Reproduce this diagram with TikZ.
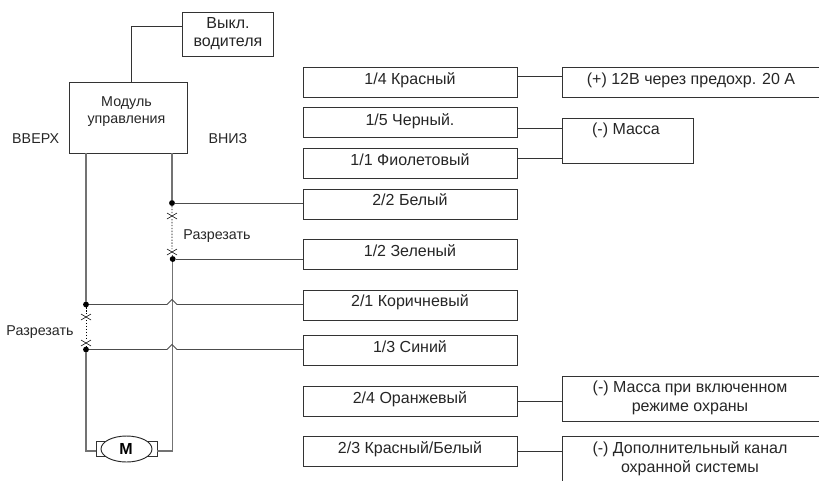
\documentclass[tikz,border=0pt]{standalone}
\usepackage{fontspec}
\setmainfont{Liberation Sans}
\usetikzlibrary{shapes.misc,shapes.geometric}
\tikzset{
  px/.style={x=0.75pt,y=-0.75pt},
  blk/.style={draw=black!80,line width=0.75pt,fill=white,inner sep=0pt,outer sep=0pt,rectangle},
  wbox/.style={blk,minimum width=160.5pt,minimum height=22.5pt},
  tgt/.style={blk,minimum width=198pt,minimum height=33.75pt},
  txt/.style={font=\fontsize{12pt}{14.6pt}\selectfont,text=black!85,inner sep=0pt,align=center},
  small/.style={font=\fontsize{10.7pt}{12.8pt}\selectfont,text=black!85,inner sep=0pt,align=center},
  lbl/.style={txt,anchor=base},
  slbl/.style={small,anchor=base},
  link/.style={draw=black!80,line width=0.7pt},
  grayw/.style={draw=black!55,line width=0.95pt},
  hop/.style={draw=black!70,line width=0.7pt},
  cut/.style={draw=black,line width=0.5pt,dash pattern=on 1pt off 1.2pt},
  dotn/.style={circle,fill=black,minimum size=4.4pt,inner sep=0pt,outer sep=0pt},
  xmark/.style={cross out,draw=black,line width=0.4pt,minimum width=7.5pt,minimum height=4.5pt,inner sep=0pt,outer sep=0pt},
}
\begin{document}
\begin{tikzpicture}[px]
\useasboundingbox (0,0) rectangle (819,480);
\clip (0,0) rectangle (819,480);
% top boxes
\node[blk,minimum width=68.25pt,minimum height=33pt] (sw) at (227.5,34) {};
\node[blk,minimum width=88.5pt,minimum height=53.25pt] (mod) at (128,117.5) {};
\node[txt,font=\fontsize{12pt}{13.5pt}\selectfont] (swt) at (228,33.7) {Выкл.\\водителя};
\node[small] (modt) at (126.5,111.9) {Модуль\\управления};
\coordinate (modtop) at (131,82);
\coordinate (swin) at (182,26);
\draw[link] (modtop) |- (swin);
\node[slbl] (up) at (35.7,143) {ВВЕРХ};
\node[slbl] (down) at (228,143) {ВНИЗ};
% left column boxes
\node[wbox] (b14) at (410,82) {};
\node[wbox] (b15) at (410,122.5) {};
\node[wbox] (b11) at (410,163) {};
\node[wbox] (b22) at (410,204) {};
\node[wbox] (b12) at (410,254) {};
\node[wbox] (b21) at (410,305) {};
\node[wbox] (b13) at (410,350) {};
\node[wbox] (b24) at (410,401) {};
\node[wbox] (b23) at (410,451.5) {};
\node[lbl] (t14) at (410,84) {1/4 Красный};
\node[lbl] (t15) at (410,125) {1/5 Черный.};
\node[lbl] (t11) at (410,165) {1/1 Фиолетовый};
\node[lbl] (t22) at (410,205) {2/2 Белый};
\node[lbl] (t12) at (410,256) {1/2 Зеленый};
\node[lbl] (t21) at (410,306) {2/1 Коричневый};
\node[lbl] (t13) at (410,352) {1/3 Синий};
\node[lbl] (t24) at (410,403) {2/4 Оранжевый};
\node[lbl] (t23) at (410,453) {2/3 Красный/Белый};
% right targets
\node[tgt,minimum height=22.5pt] (p) at (694,82) {};
\node[blk,minimum width=98.25pt,minimum height=33.75pt] (gnd) at (627.5,140.5) {};
\node[tgt] (g2) at (694,398.5) {};
\node[tgt] (g3) at (694,458.5) {};
\node[lbl] (tp) at (691,84) {(+) 12В через предохр. 20 А};
\node[lbl] (tg) at (626,134) {(-) Масса};
\node[txt] (tg2) at (690,397.8) {(-) Масса при включенном\\режиме охраны};
\node[txt] (tg3) at (690,458.5) {(-) Дополнительный канал\\охранной системы};
% links between boxes
\draw[link] (b14.east |- 0,76) -- (p.west |- 0,76);
\draw[link] (b15.east |- 0,128) -- (gnd.west |- 0,128);
\draw[link] (b11.east |- 0,158) -- (gnd.west |- 0,158);
\draw[link] (b24.east) -- (b24.east -| g2.west);
\draw[link] (b23.east) -- (b23.east -| g3.west);
% junctions
\node[dotn] (j1) at (172,203) {};
\node[xmark] (x1) at (172,216) {};
\node[xmark] (x2) at (172,252) {};
\node[dotn] (j2) at (172.7,259) {};
\node[dotn] (j3) at (86,304.5) {};
\node[xmark] (x3) at (86,317) {};
\node[xmark] (x4) at (86,343) {};
\node[dotn] (j4) at (86,349.5) {};
\node[slbl] (cut1) at (217,239) {Разрезать};
\node[slbl] (cut2) at (40,335) {Разрезать};
% motor
\node[blk,minimum width=45.75pt,minimum height=11.25pt] (mbox) at (126.5,448.5) {};
\node[draw=black!85,line width=0.7pt,fill=white,ellipse,minimum width=38.25pt,minimum height=19.5pt,inner sep=0pt,outer sep=0pt] (mot) at (126.5,449) {};
\node[font=\fontsize{12pt}{12pt}\selectfont\bfseries,inner sep=0pt,text=black] (mt) at (126,449) {M};
% wires
\draw[grayw] (mod.south -| j3) -- (j3);
\draw[grayw] (j4) |- (mbox.west |- 0,451);
\draw[grayw] (mod.south -| j1) -- (j1);
\draw[grayw] (j2) |- (mbox.east |- 0,451);
\draw[cut] (j1) -- (x1) -- (x2) -- (j2);
\draw[cut] (j3) -- (x3) -- (x4) -- (j4);
\draw[hop] (j1) -- (j1 -| b22.west);
\draw[hop] (j2) -- (j2 -| b12.west);
\draw[hop] (j3) -- (167,304.5) -- (172,299.5) -- (177,304.5) -- (b21.west |- j3);
\draw[hop] (j4) -- (167,349.5) -- (172,344.5) -- (177,349.5) -- (b13.west |- j4);
\end{tikzpicture}
\end{document}
